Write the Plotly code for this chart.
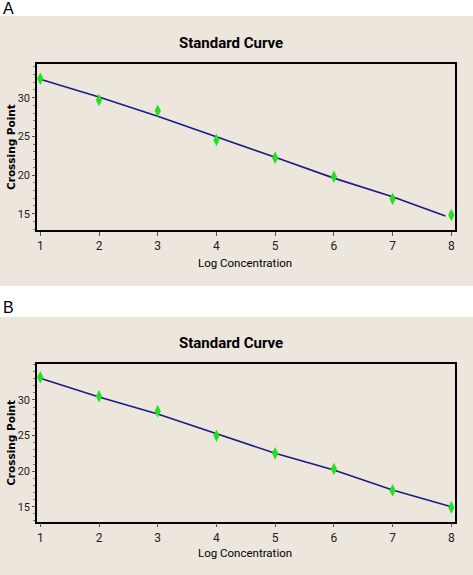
import plotly.graph_objects as go

log_conc = [1, 2, 3, 4, 5, 6, 7, 8]
cp_a = [32.46, 29.7, 28.32, 24.53, 22.24, 19.78, 16.9, 14.83]
cp_b = [33.19, 30.52, 28.41, 24.98, 22.5, 20.3, 17.3, 14.9]
fit_x_a = [1, 2, 3, 4, 5, 6, 7, 7.9]
fit_a = [32.4, 30.1, 27.6, 25.0, 22.3, 19.6, 17.2, 14.7]
fit_x_b = [1, 2, 3, 4, 5, 6, 7, 8]
fit_b = [33.05, 30.42, 28.03, 25.27, 22.5, 20.16, 17.34, 15.0]
x_ticks = [1, 2, 3, 4, 5, 6, 7, 8]
y_ticks = [15, 20, 25, 30]
panel_labels = ["A", "B"]
title_text = "Standard Curve"
x_title = "Log Concentration"
y_title = "Crossing Point"

W, H = 473, 575
BEIGE = "#ece6dd"
LINE = "#1c1c84"
GREEN = "#22e022"
NARROW = "Roboto, Liberation Sans, sans-serif"

fig = go.Figure()

def py(p):
    return 1 - p / H

panels = [
    dict(fx=fit_x_a, fy=fit_a, y=cp_a, yr=[12.89, 34.36], dom=[py(230), py(64)],
         bg=[py(286), py(16)], lab_y=py(-2), title_y=py(43), xt_y=py(263)),
    dict(fx=fit_x_b, fy=fit_b, y=cp_b, yr=[12.89, 35.06], dom=[py(521.7), py(364)],
         bg=[py(575), py(317)], lab_y=py(297), title_y=py(343), xt_y=py(553)),
]

shapes = []
annotations = []
for i, p in enumerate(panels):
    s = "" if i == 0 else str(i + 1)
    fig.add_trace(go.Scatter(x=p["fx"], y=p["fy"], mode="lines",
                             line=dict(color=LINE, width=1.6),
                             xaxis="x" + s, yaxis="y" + s, showlegend=False))
    fig.add_trace(go.Scatter(x=log_conc, y=p["y"], mode="markers",
                             marker=dict(symbol="diamond-tall", size=9, color=GREEN,
                                         line=dict(width=0)),
                             xaxis="x" + s, yaxis="y" + s, showlegend=False))
    axis_common = dict(showgrid=False, zeroline=False, showline=True, linecolor="black",
                       linewidth=1.5, mirror=True, ticks="outside", tickcolor="#555555",
                       ticklen=4, tickwidth=1,
                       tickfont=dict(family=NARROW, size=12, color="#222222"))
    fig.layout["xaxis" + s] = dict(axis_common, domain=[37 / W, 455 / W],
                                   range=[0.944, 8.063], tickvals=x_ticks,
                                   anchor="y" + s)
    fig.layout["yaxis" + s] = dict(axis_common, domain=p["dom"], range=p["yr"],
                                   tickvals=y_ticks, anchor="x" + s, ticklen=3,
                                   tickfont=dict(family=NARROW, size=11, color="#222222"),
                                   minor=dict(ticks="outside", dtick=1, ticklen=2,
                                              tickcolor="#777777"))
    shapes.append(dict(type="rect", xref="paper", yref="paper", x0=0, x1=1,
                       y0=p["bg"][0], y1=p["bg"][1], fillcolor=BEIGE,
                       line=dict(width=0), layer="below"))
    annotations.append(dict(text=panel_labels[i], xref="paper", yref="paper",
                            x=1 / W, y=p["lab_y"], xanchor="left", yanchor="top",
                            showarrow=False,
                            font=dict(family="Liberation Sans, Arial", size=16, color="black")))
    annotations.append(dict(text="<b>" + title_text + "</b>", xref="paper", yref="paper",
                            x=231 / W, y=p["title_y"], xanchor="center", yanchor="middle",
                            showarrow=False,
                            font=dict(family=NARROW, size=15, color="black")))
    annotations.append(dict(text=x_title, xref="paper", yref="paper",
                            x=245 / W, y=p["xt_y"], xanchor="center", yanchor="middle",
                            showarrow=False,
                            font=dict(family=NARROW, size=11.5, color="black")))
    annotations.append(dict(text="<b>" + y_title + "</b>", xref="paper", yref="paper",
                            x=11 / W, y=(p["dom"][0] + p["dom"][1]) / 2, xanchor="center",
                            yanchor="middle", textangle=-90, showarrow=False,
                            font=dict(family="DejaVu Sans, Verdana", size=10.5, color="black")))

fig.update_layout(width=W, height=H, margin=dict(l=0, r=0, t=0, b=0),
                  paper_bgcolor="white", plot_bgcolor="white",
                  shapes=shapes, annotations=annotations)

fig.write_html("out.html", config={"displayModeBar": False},
               post_script="document.body.style.margin='0';")
